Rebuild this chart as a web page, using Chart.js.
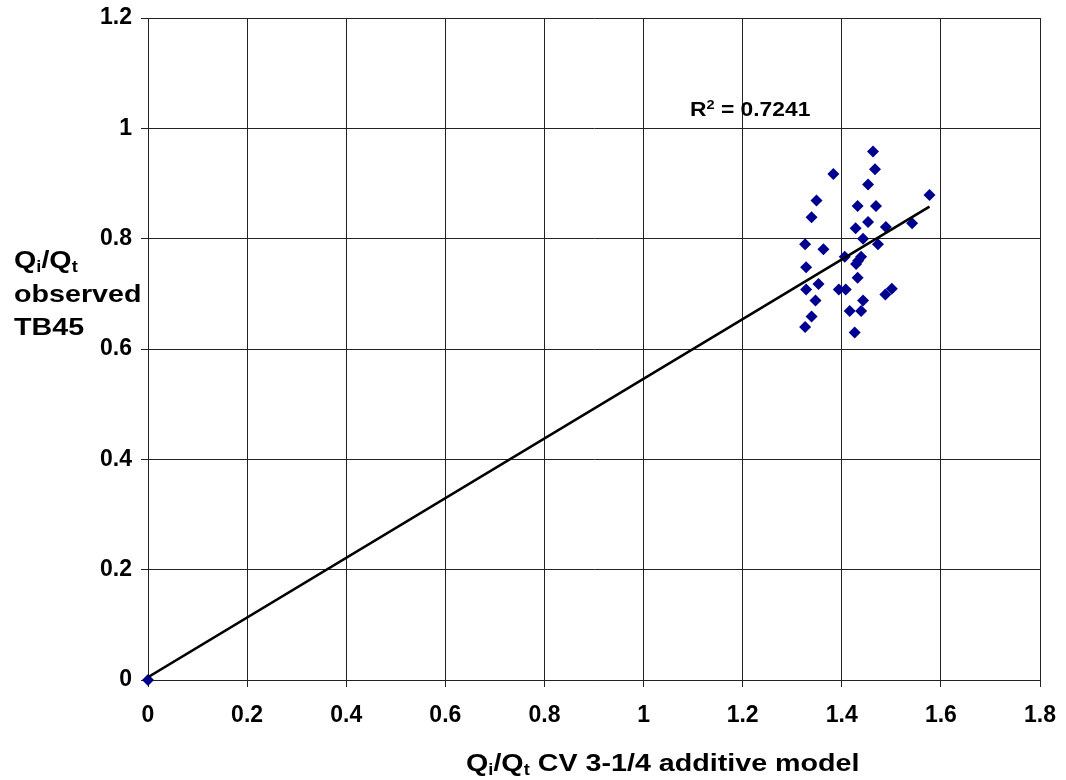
<!DOCTYPE html>
<html>
<head>
<meta charset="utf-8">
<script src="https://cdn.jsdelivr.net/npm/chart.js@4.4.1/dist/chart.umd.min.js"></script>
<style>
html,body{margin:0;padding:0;background:#fff;}
#wrap{width:1066px;height:780px;position:relative;}
</style>
</head>
<body>
<div id="wrap"><canvas id="c" width="1066" height="780"></canvas></div>
<script>
// Data
const xModel = [0, 1.463, 1.467, 1.383, 1.453, 1.577, 1.349, 1.432, 1.469, 1.339, 1.453, 1.542, 1.428, 1.489,
  1.443, 1.326, 1.473, 1.363, 1.439, 1.406, 1.433, 1.429, 1.328, 1.432, 1.353, 1.328, 1.394, 1.408,
  1.501, 1.488, 1.347, 1.443, 1.416, 1.439, 1.339, 1.326, 1.426];
const yObserved = [0, 0.958, 0.926, 0.917, 0.898, 0.879, 0.869, 0.859, 0.859, 0.839, 0.830, 0.828, 0.819, 0.821,
  0.800, 0.790, 0.790, 0.781, 0.767, 0.767, 0.760, 0.754, 0.748, 0.729, 0.718, 0.708, 0.708, 0.708,
  0.709, 0.699, 0.688, 0.688, 0.669, 0.669, 0.659, 0.640, 0.630];
const trendX = [0, 1.577];
const trendY = [0.005, 0.858];
const xTickLabels = ['0', '0.2', '0.4', '0.6', '0.8', '1', '1.2', '1.4', '1.6', '1.8'];
const yTickLabels = ['0', '0.2', '0.4', '0.6', '0.8', '1', '1.2'];
const r2Text = '0.7241';

const FONT = '"Liberation Sans", Arial, sans-serif';
const STRETCH = 1.17;

function drawRich(ctx, parts, x, y, size, sx) {
  ctx.save();
  ctx.translate(x, y);
  ctx.scale(sx, 1);
  let cx = 0;
  for (const p of parts) {
    let fs = size, dy = 0;
    if (p.sub) { fs = size * 0.64; dy = size * 0.18; }
    if (p.sup) { fs = size * 0.64; dy = -size * 0.38; }
    ctx.font = 'bold ' + fs + 'px ' + FONT;
    ctx.fillText(p.t, cx, dy);
    cx += ctx.measureText(p.t).width;
  }
  ctx.restore();
}

const textPlugin = {
  id: 'texts',
  afterDraw(chart) {
    const ctx = chart.ctx;
    ctx.save();
    ctx.fillStyle = '#000';
    ctx.textBaseline = 'alphabetic';
    ctx.textAlign = 'left';
    drawRich(ctx, [{t:'Q'},{t:'i',sub:true},{t:'/Q'},{t:'t',sub:true}], 14, 268, 24.5, STRETCH);
    drawRich(ctx, [{t:'observed'}], 14, 302, 24.5, STRETCH);
    drawRich(ctx, [{t:'TB45'}], 14, 335, 24.5, STRETCH);
    drawRich(ctx, [{t:'Q'},{t:'i',sub:true},{t:'/Q'},{t:'t',sub:true},{t:' CV 3-1/4 additive model'}], 466, 771, 24.5, STRETCH);
    drawRich(ctx, [{t:'R'},{t:'2',sup:true},{t:' = ' + r2Text}], 690, 116, 19.5, STRETCH);
    ctx.restore();
  }
};

new Chart(document.getElementById('c'), {
  type: 'scatter',
  data: {
    datasets: [
      {
        type: 'line',
        data: trendX.map((x, i) => ({x: x, y: trendY[i]})),
        borderColor: '#000',
        borderWidth: 2.6,
        pointRadius: 0,
        fill: false,
        order: 0
      },
      {
        data: xModel.map((x, i) => ({x: x, y: yObserved[i]})),
        pointStyle: 'rectRot',
        pointRadius: 6,
        backgroundColor: '#000090',
        borderColor: '#000090',
        borderWidth: 0,
        clip: false,
        order: 1
      }
    ]
  },
  options: {
    responsive: false,
    animation: false,
    devicePixelRatio: 1,
    layout: { padding: { top: 18, right: 26, left: 0, bottom: 0 } },
    plugins: { legend: { display: false }, tooltip: { enabled: false } },
    scales: {
      x: {
        type: 'linear', min: 0, max: 1.8,
        afterFit(s) { s.height = 100; s.paddingLeft = 0; s.paddingRight = 0; },
        afterBuildTicks(s) { s.ticks = xTickLabels.map(l => ({value: parseFloat(l)})); },
        ticks: {
          autoSkip: false, maxRotation: 0, padding: 15, color: '#000',
          font: { family: FONT, size: 23, weight: 'bold' },
          callback: (v, i) => xTickLabels[i]
        },
        grid: { color: '#222', lineWidth: 1, tickLength: 7, tickColor: '#222' },
        border: { color: '#222', width: 1 }
      },
      y: {
        type: 'linear', min: 0, max: 1.2,
        afterFit(s) { s.width = 148; s.paddingTop = 0; s.paddingBottom = 0; },
        afterBuildTicks(s) { s.ticks = yTickLabels.map(l => ({value: parseFloat(l)})); },
        ticks: {
          autoSkip: false, padding: 9, color: '#000',
          font: { family: FONT, size: 23, weight: 'bold' },
          callback: (v, i) => yTickLabels[i]
        },
        grid: { color: '#222', lineWidth: 1, tickLength: 7, tickColor: '#222' },
        border: { color: '#222', width: 1 }
      }
    }
  },
  plugins: [textPlugin]
});
</script>
</body>
</html>
